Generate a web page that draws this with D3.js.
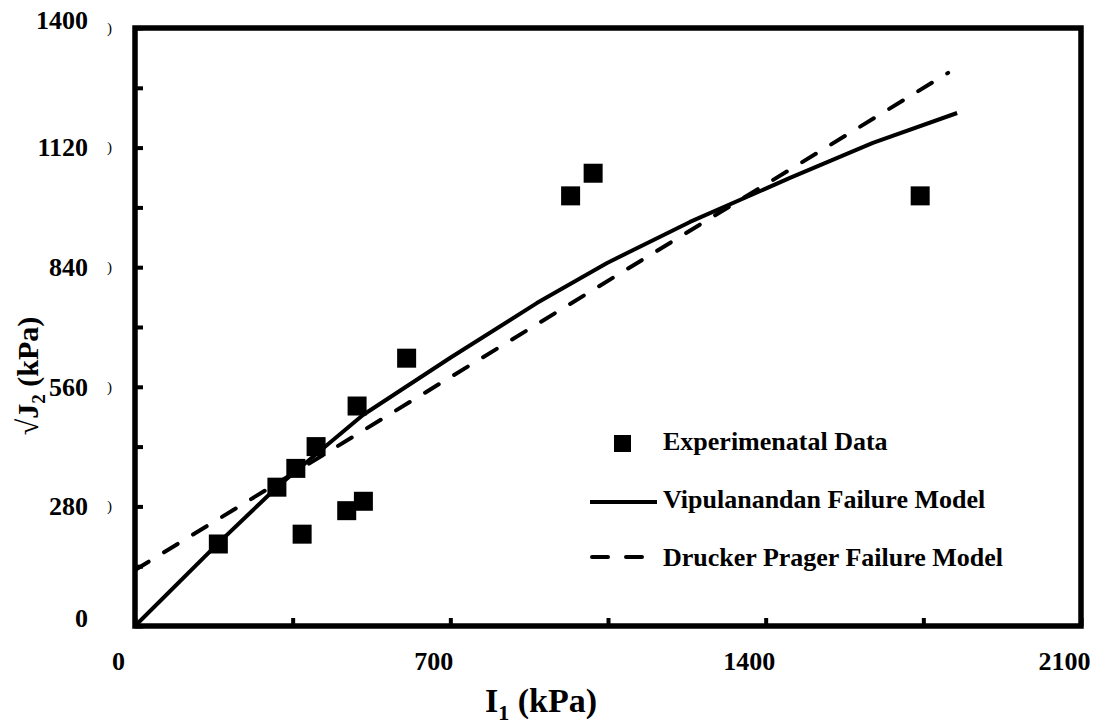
<!DOCTYPE html>
<html>
<head>
<meta charset="utf-8">
<script src="https://cdnjs.cloudflare.com/ajax/libs/d3/7.8.5/d3.min.js"></script>
<style>
body { margin: 0; background: #fff; }
text { font-family: "Liberation Serif", "Times New Roman", serif; font-weight: bold; fill: #000; }
</style>
</head>
<body>
<div id="chart"></div>
<script>
// experimental points
var expI1 = [185, 315, 357, 371, 402, 470, 493, 507, 603, 967, 1017, 1743];
var expJ2 = [192, 325, 369, 215, 420, 270, 515, 292, 627, 1007, 1060, 1007];

// Vipulanandan model curve
var vipI1 = [0, 185, 315, 360, 506, 700, 892, 1048, 1232, 1454, 1638, 1825];
var vipJ2 = [0, 194, 325, 365, 494, 628, 756, 850, 946, 1049, 1131, 1201];

// Drucker Prager line
var dpI1 = [0, 1805];
var dpJ2 = [131, 1295];

var xTicks = [0, 350, 700, 1050, 1400, 1750, 2100];
var xTickLabels = [0, 700, 1400, 2100];
var yTicks = [0, 140, 280, 420, 560, 700, 840, 980, 1120, 1260, 1400];
var yTickLabels = [0, 280, 560, 840, 1120, 1400];
var legendNames = ["Experimenatal Data", "Vipulanandan Failure Model", "Drucker Prager Failure Model"];

var width = 1097, height = 725;
var plotLeft = 135, plotRight = 1081, plotTop = 28, plotBottom = 626;

var svg = d3.select("#chart").append("svg")
    .attr("width", width)
    .attr("height", height);

var x = d3.scaleLinear().domain([0, 2100]).range([plotLeft, plotRight]);
var y = d3.scaleLinear().domain([0, 1400]).range([plotBottom, plotTop]);

// x axis, ticks pointing inside
var xAxis = svg.append("g")
    .attr("transform", "translate(0," + plotBottom + ")")
    .call(d3.axisBottom(x)
        .tickValues(xTicks)
        .tickSizeInner(-8)
        .tickSizeOuter(0)
        .tickFormat(function(d){ return xTickLabels.indexOf(d) >= 0 ? d : ""; }));
xAxis.select(".domain").remove();
xAxis.selectAll("line").attr("stroke", "#000").attr("stroke-width", 4);
xAxis.selectAll("text")
    .attr("y", 44)
    .attr("dy", 0)
    .attr("dx", -17)
    .style("font-size", "26px")
    .attr("fill", "#000");

var yAxis = svg.append("g")
    .attr("transform", "translate(" + plotLeft + ",0)")
    .call(d3.axisLeft(y)
        .tickValues(yTicks)
        .tickSizeInner(-8)
        .tickSizeOuter(0)
        .tickPadding(47)
        .tickFormat(function(d){ return yTickLabels.indexOf(d) >= 0 ? d : ""; }));
yAxis.select(".domain").remove();
yAxis.selectAll("line").attr("stroke", "#000").attr("stroke-width", 4);
yAxis.selectAll("text")
    .style("font-size", "26px")
    .attr("fill", "#000")
    .attr("transform", function(d){
        // end labels sit a little higher
        return (d == 0 || d == 1400) ? "translate(0,-8)" : null;
    });

// the small clipped brackets beside the y labels
svg.selectAll(".brk")
    .data(yTickLabels.slice(1))
  .enter().append("text")
    .attr("class", "brk")
    .attr("x", 107)
    .attr("y", function(d){ return y(d); })
    .attr("dy", "0.32em")
    .style("font-size", "15px")
    .style("font-weight", "normal")
    .text(")");

// frame
svg.append("rect")
    .attr("x", plotLeft)
    .attr("y", plotTop)
    .attr("width", plotRight - plotLeft)
    .attr("height", plotBottom - plotTop)
    .attr("fill", "none")
    .attr("stroke", "#000")
    .attr("stroke-width", 5.5);

var line = d3.line()
    .x(function(d){ return x(d[0]); })
    .y(function(d){ return y(d[1]); });

svg.append("path")
    .datum(d3.zip(dpI1, dpJ2))
    .attr("d", line)
    .attr("fill", "none")
    .attr("stroke", "#000")
    .attr("stroke-width", 4)
    .attr("stroke-linecap", "round")
    .attr("stroke-dasharray", "16,18");

svg.append("path")
    .datum(d3.zip(vipI1, vipJ2))
    .attr("d", line)
    .attr("fill", "none")
    .attr("stroke", "#000")
    .attr("stroke-width", 4)
    .attr("stroke-linejoin", "round");

svg.selectAll(".pt")
    .data(d3.zip(expI1, expJ2))
  .enter().append("rect")
    .attr("class", "pt")
    .attr("x", function(d){ return x(d[0]) - 9.5; })
    .attr("y", function(d){ return y(d[1]) - 9.5; })
    .attr("width", 19)
    .attr("height", 19)
    .attr("fill", "#000");

// legend
var lg = svg.append("g");
lg.append("rect")
    .attr("x", 614).attr("y", 435)
    .attr("width", 17).attr("height", 17)
    .attr("fill", "#000");
lg.append("line")
    .attr("x1", 590).attr("x2", 657)
    .attr("y1", 502).attr("y2", 502)
    .attr("stroke", "#000").attr("stroke-width", 4);
lg.append("line")
    .attr("x1", 592).attr("x2", 645)
    .attr("y1", 557).attr("y2", 557)
    .attr("stroke", "#000").attr("stroke-width", 4)
    .attr("stroke-linecap", "round")
    .attr("stroke-dasharray", "16,18");
lg.selectAll("text")
    .data(legendNames)
  .enter().append("text")
    .attr("x", 663)
    .attr("y", function(d, i){ return 450 + i * 58; })
    .style("font-size", "26px")
    .text(function(d){ return d; });

// axis titles
var xt = svg.append("text")
    .attr("x", 541)
    .attr("y", 712)
    .attr("text-anchor", "middle")
    .style("font-size", "34px");
xt.append("tspan").text("I");
xt.append("tspan").attr("dy", 8).style("font-size", "22px").text("1");
xt.append("tspan").attr("dy", -8).text(" (kPa)");

var yt = svg.append("text")
    .attr("transform", "translate(38,376) rotate(-90)")
    .attr("text-anchor", "middle")
    .style("font-size", "30px");
yt.append("tspan").style("font-weight", "normal").text("\u221A");
yt.append("tspan").text("J");
yt.append("tspan").attr("dy", 7).style("font-size", "19px").text("2");
yt.append("tspan").attr("dy", -7).text(" (kPa)");
</script>
</body>
</html>
